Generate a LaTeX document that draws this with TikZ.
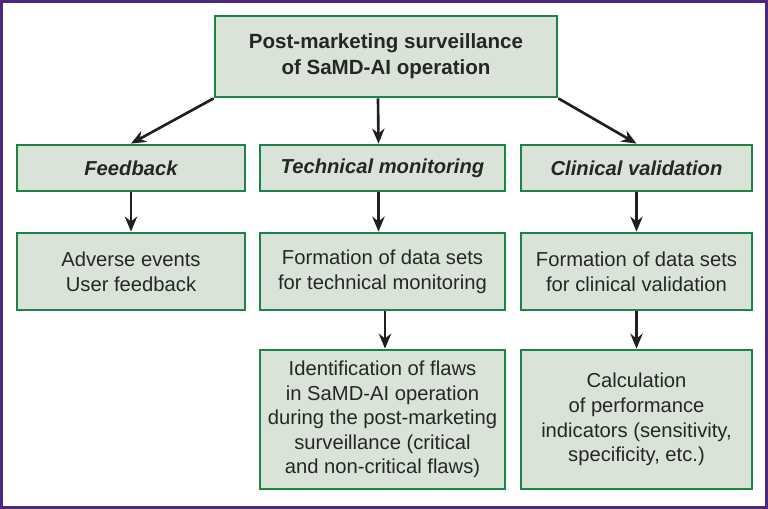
\documentclass[tikz,border=0pt]{standalone}
\usepackage{fontspec}
\setmainfont{Liberation Sans}
\usetikzlibrary{arrows.meta,positioning}
\definecolor{boxgreen}{RGB}{28,132,72}
\definecolor{boxfill}{RGB}{217,227,216}
\definecolor{framepurple}{RGB}{78,40,128}
\colorlet{arrowblack}{black!88}
\colorlet{textgray}{black!85}

\begin{document}
\begin{tikzpicture}[x=0.02cm,y=-0.02cm,font=\fontsize{11.5}{14}\selectfont,text=textgray,
  stage/.style={draw=boxgreen,fill=boxfill,line width=1.6pt,align=center,inner sep=1pt},
  head/.style={font=\fontsize{11.5}{14}\selectfont\bfseries\itshape},
  link/.style={arrowblack,line width=1.5pt,-{Stealth[length=8.5pt,width=7pt]}}]
\useasboundingbox (0,0) rectangle (768,509);
\draw[framepurple,line width=1.8pt] (1.5,1.5) rectangle (766.5,507.5);
% top
\node[stage,minimum width=6.84cm,minimum height=1.62cm,font=\fontsize{11.7}{15}\selectfont\bfseries] (top) at (386,56.5) {Post-marketing surveillance\\of SaMD-AI operation};
% second row
\node[stage,head,minimum width=4.56cm,minimum height=0.92cm] (feed) at (131,168) {Feedback};
\node[stage,head,minimum width=4.9cm,minimum height=0.92cm] (tech) at (382.5,168) {Technical monitoring};
\node[stage,head,minimum width=4.62cm,minimum height=0.92cm] (clin) at (636.5,168) {Clinical validation};
% third row
\node[stage,minimum width=4.56cm,minimum height=1.54cm] (events) at (131,271.5) {Adverse events\\User feedback};
\node[stage,minimum width=4.9cm,minimum height=1.54cm] (techdata) at (382.5,271.5) {Formation of data sets\\for technical monitoring};
\node[stage,minimum width=4.62cm,minimum height=1.54cm] (clindata) at (636.5,271.5) {Formation of data sets\\for clinical validation};
% fourth row
\node[stage,minimum width=4.9cm,minimum height=2.78cm] (flaws) at (382.5,419.5) {Identification of flaws\\in SaMD-AI operation\\during the post-marketing\\surveillance (critical\\and non-critical flaws)};
\node[stage,minimum width=4.62cm,minimum height=2.78cm] (calc) at (636.5,419.5) {Calculation\\of performance\\indicators (sensitivity,\\specificity, etc.)};
% arrows
\draw[link] (top.south west) -- (feed.north);
\draw[link] ([xshift=-0.16cm]top.south) -- ([xshift=-0.08cm]tech.north);
\draw[link] (top.south east) -- (clin.north);
\draw[link] (feed) -- (events);
\draw[link] ([xshift=-0.08cm]tech.south) -- ([xshift=-0.08cm]techdata.north);
\draw[link] (clin) -- (clindata);
\draw[link] ([xshift=0.05cm]techdata.south) -- ([xshift=0.05cm]flaws.north);
\draw[link] (clindata) -- (calc);
\end{tikzpicture}
\end{document}
